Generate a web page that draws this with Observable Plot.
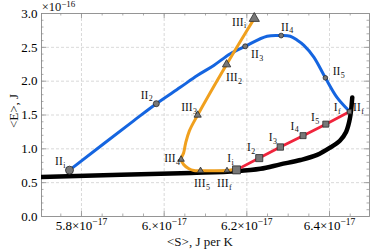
<!DOCTYPE html>
<html><head><meta charset="utf-8">
<script src="https://cdn.jsdelivr.net/npm/d3@7"></script>
<script src="https://cdn.jsdelivr.net/npm/@observablehq/plot@0.6"></script>
<style>
body{margin:0;background:#fff}
svg, svg text, svg tspan{font-family:"Liberation Serif","DejaVu Serif","Times New Roman",serif !important}
</style>
</head><body><div id="chart"></div>
<script>
// Units: <S> in 1e-17 J/K, <E> in 1e-16 J
const blackS = [5.703, 6.064, 6.175, 6.233, 6.281, 6.33, 6.37, 6.402, 6.425, 6.44, 6.448, 6.452, 6.455];
const blackE = [0.585, 0.644, 0.670, 0.705, 0.77, 0.835, 0.91, 1.02, 1.12, 1.25, 1.41, 1.56, 1.76];

const blueS = [5.771, 5.926, 5.981, 6.039, 6.080, 6.120, 6.160, 6.196, 6.249, 6.283, 6.305, 6.322, 6.338, 6.362, 6.390, 6.418, 6.448];
const blueE = [0.685, 1.414, 1.667, 1.909, 2.083, 2.232, 2.406, 2.515, 2.664, 2.674, 2.664, 2.604, 2.530, 2.356, 2.049, 1.760, 1.555];

const orangeS = [6.218, 6.151, 6.081, 6.061, 6.052, 6.047, 6.041, 6.047, 6.059, 6.072, 6.088, 6.152, 6.165];
const orangeE = [2.927, 2.247, 1.499, 1.265, 1.086, 0.938, 0.844, 0.769, 0.710, 0.680, 0.677, 0.680, 0.692];

// Process I (red) points
const iS = [6.175, 6.230, 6.281, 6.336, 6.391, 6.448];
const iE = [0.689, 0.863, 1.027, 1.195, 1.365, 1.548];
const iSub = ["i", "2", "3", "4", "5", "f"];

// Process II (blue) points
const iiS = [5.771, 5.981, 6.196, 6.283, 6.390, 6.448];
const iiE = [0.685, 1.667, 2.515, 2.674, 2.049, 1.555];
const iiSub = ["i", "2", "3", "4", "5", "f"];

// Process III (orange) points
const iiiS = [6.218, 6.151, 6.081, 6.041, 6.088, 6.152];
const iiiE = [2.927, 2.247, 1.499, 0.844, 0.677, 0.680];
const iiiSub = ["i", "2", "3", "4", "5", "f"];

const xMajor = [5.8, 6.0, 6.2, 6.4];
const xTickText = ["5.8", "6.", "6.2", "6.4"];
const xExp = "−17";
const yMajor = [0, 0.5, 1.0, 1.5, 2.0, 2.5, 3.0];
const yExp = "−16";
const xLabel = "<S>, J per K";
const yLabel = "<E>, J";

// ---- styling / layout (not data) ----
const FONT = "Liberation Serif, DejaVu Serif, serif";
const rI = [4.5, 4, 3.6, 3.4, 3.4, 2.4];
const rII = [4, 3, 2.5, 2.4, 2.3, 2];
const rIII = [3.8, 3.1, 2.7, 2.4, 2.3, 2.1];
const offI = [[-5.3, -11.4], [-8.3, -10.3], [-7.7, -9.3], [-8.7, -9.7], [-11, -6.6], [-11.7, -4.3]];
const offII = [[-6.7, -9], [-8, -8.7], [13.6, 8], [7.6, -8.6], [15, -6.6], [11.4, -3.8]];
const offIII = [[-10.7, 3.4], [11, 13.3], [-5, -7.6], [-5.4, -1], [5, 12.8], [1.6, 13]];

const xMinor = d3.range(5.75, 6.46, 0.05).map(v => +v.toFixed(2)).filter(v => !xMajor.some(m => Math.abs(m - v) < 1e-6));
const yMinor = d3.range(0.1, 3.0, 0.1).map(v => +v.toFixed(1)).filter(v => Math.abs(v * 2 - Math.round(v * 2)) > 1e-6);
const yGrid = [0.5, 1.0, 1.5, 2.0, 2.5];

const W = 374, H = 252, mL = 41, mR = 5, mT = 13, mB = 36;
const frameH = H - mT - mB, frameW = W - mL - mR;
const tickCol = "#8a8a8a";

function labelMarks(S, E, name, subs, off) {
  const out = [];
  S.forEach((s, i) => {
    out.push(Plot.text([0], {x: () => s, y: () => E[i], text: () => name, textAnchor: "end",
      dx: off[i][0], dy: off[i][1], fontSize: 11.5, fontFamily: FONT, fill: "#111"}));
    out.push(Plot.text([0], {x: () => s, y: () => E[i], text: () => subs[i], textAnchor: "start",
      dx: off[i][0] + 0.4, dy: off[i][1] + 3.8, fontSize: 8, fontFamily: FONT, fill: "#111"}));
  });
  return out;
}

const idx = a => a.map((_, i) => i);

const plot = Plot.plot({
  width: W, height: H,
  marginLeft: mL, marginRight: mR, marginTop: mT, marginBottom: mB,
  x: {domain: [5.7033, 6.4967]},
  y: {domain: [0, 3]},
  r: {type: "identity"},
  style: {fontFamily: FONT, background: "#fff"},
  marks: [
    Plot.ruleX(xMajor, {stroke: "#cfcfcf", strokeWidth: 0.8, strokeDasharray: "3,2"}),
    Plot.ruleY(yGrid, {stroke: "#cfcfcf", strokeWidth: 0.8, strokeDasharray: "3,2"}),
    // inner frame ticks
    Plot.ruleX(xMajor, {stroke: tickCol, strokeWidth: 0.8, insetTop: frameH - 5}),
    Plot.ruleX(xMajor, {stroke: tickCol, strokeWidth: 0.8, insetBottom: frameH - 5}),
    Plot.ruleX(xMinor, {stroke: tickCol, strokeWidth: 0.7, insetTop: frameH - 2.5}),
    Plot.ruleX(xMinor, {stroke: tickCol, strokeWidth: 0.7, insetBottom: frameH - 2.5}),
    Plot.ruleY(yGrid, {stroke: tickCol, strokeWidth: 0.8, insetRight: frameW - 5}),
    Plot.ruleY(yGrid, {stroke: tickCol, strokeWidth: 0.8, insetLeft: frameW - 5}),
    Plot.ruleY(yMinor, {stroke: tickCol, strokeWidth: 0.7, insetRight: frameW - 2.5}),
    Plot.ruleY(yMinor, {stroke: tickCol, strokeWidth: 0.7, insetLeft: frameW - 2.5}),
    Plot.frame({stroke: "#8a8a8a", strokeWidth: 0.9}),
    Plot.axisX({ticks: xMajor, tickSize: 0, tickPadding: 4, fontSize: 13, fontFamily: FONT, label: null,
      tickFormat: (d) => xTickText[xMajor.indexOf(d)] + "×10^" + xExp}),
    Plot.axisY({ticks: yMajor, tickSize: 0, tickPadding: 4, fontSize: 13, fontFamily: FONT, label: null,
      tickFormat: d3.format(".1f")}),
    // curves
    Plot.line(idx(blackS), {x: i => blackS[i], y: i => blackE[i], stroke: "#000", strokeWidth: 4.5, curve: "catmull-rom", clip: true}),
    Plot.line(idx(blueS), {x: i => blueS[i], y: i => blueE[i], stroke: "#1565e0", strokeWidth: 3, curve: "catmull-rom", clip: true}),
    Plot.line(idx(orangeS), {x: i => orangeS[i], y: i => orangeE[i], stroke: "#f0a01e", strokeWidth: 3, curve: "catmull-rom", clip: true}),
    Plot.line(idx(iS), {x: i => iS[i], y: i => iE[i], stroke: "#f0243c", strokeWidth: 2.8, clip: true}),
    // markers
    Plot.dot(idx(iiS), {x: i => iiS[i], y: i => iiE[i], r: i => rII[i], symbol: "circle", fill: "#777", stroke: "#2a2a2a", strokeWidth: 0.8}),
    Plot.dot(idx(iiiS), {x: i => iiiS[i], y: i => iiiE[i], r: i => rIII[i], symbol: "triangle", fill: "#777", stroke: "#2a2a2a", strokeWidth: 0.8}),
    Plot.dot(idx(iS), {x: i => iS[i], y: i => iE[i], r: i => rI[i], symbol: "square", fill: "#777", stroke: "#2a2a2a", strokeWidth: 0.8}),
    ...labelMarks(iS, iE, "I", iSub, offI),
    ...labelMarks(iiS, iiE, "II", iiSub, offII),
    ...labelMarks(iiiS, iiiE, "III", iiiSub, offIII)
  ]
});

const svg = d3.select(plot);
svg.selectAll('g[aria-label="x-axis tick label"] text').each(function () {
  const t = this.textContent;
  const [a, b] = t.split("^");
  const sel = d3.select(this);
  sel.text(a);
  sel.append("tspan").attr("dy", "-0.45em").attr("font-size", "9.5px").text(b);
});
// exponent note above the frame
const ex = svg.append("text").attr("x", mL + 0.7).attr("y", 11.3).attr("font-size", "12.5px")
  .attr("text-anchor", "start").attr("font-family", FONT).attr("fill", "#111").text("×10");
ex.append("tspan").attr("dy", "-0.45em").attr("font-size", "9px").text(yExp);
// axis titles
svg.append("text").attr("x", 200).attr("y", 245.5).attr("text-anchor", "middle")
  .attr("font-size", "13px").attr("font-family", FONT).attr("fill", "#111").text(xLabel);
svg.append("text").attr("transform", "translate(17.5,111) rotate(-90)").attr("text-anchor", "middle")
  .attr("font-size", "13px").attr("font-family", FONT).attr("fill", "#111").text(yLabel);

document.getElementById("chart").appendChild(plot);
</script>
</body></html>
